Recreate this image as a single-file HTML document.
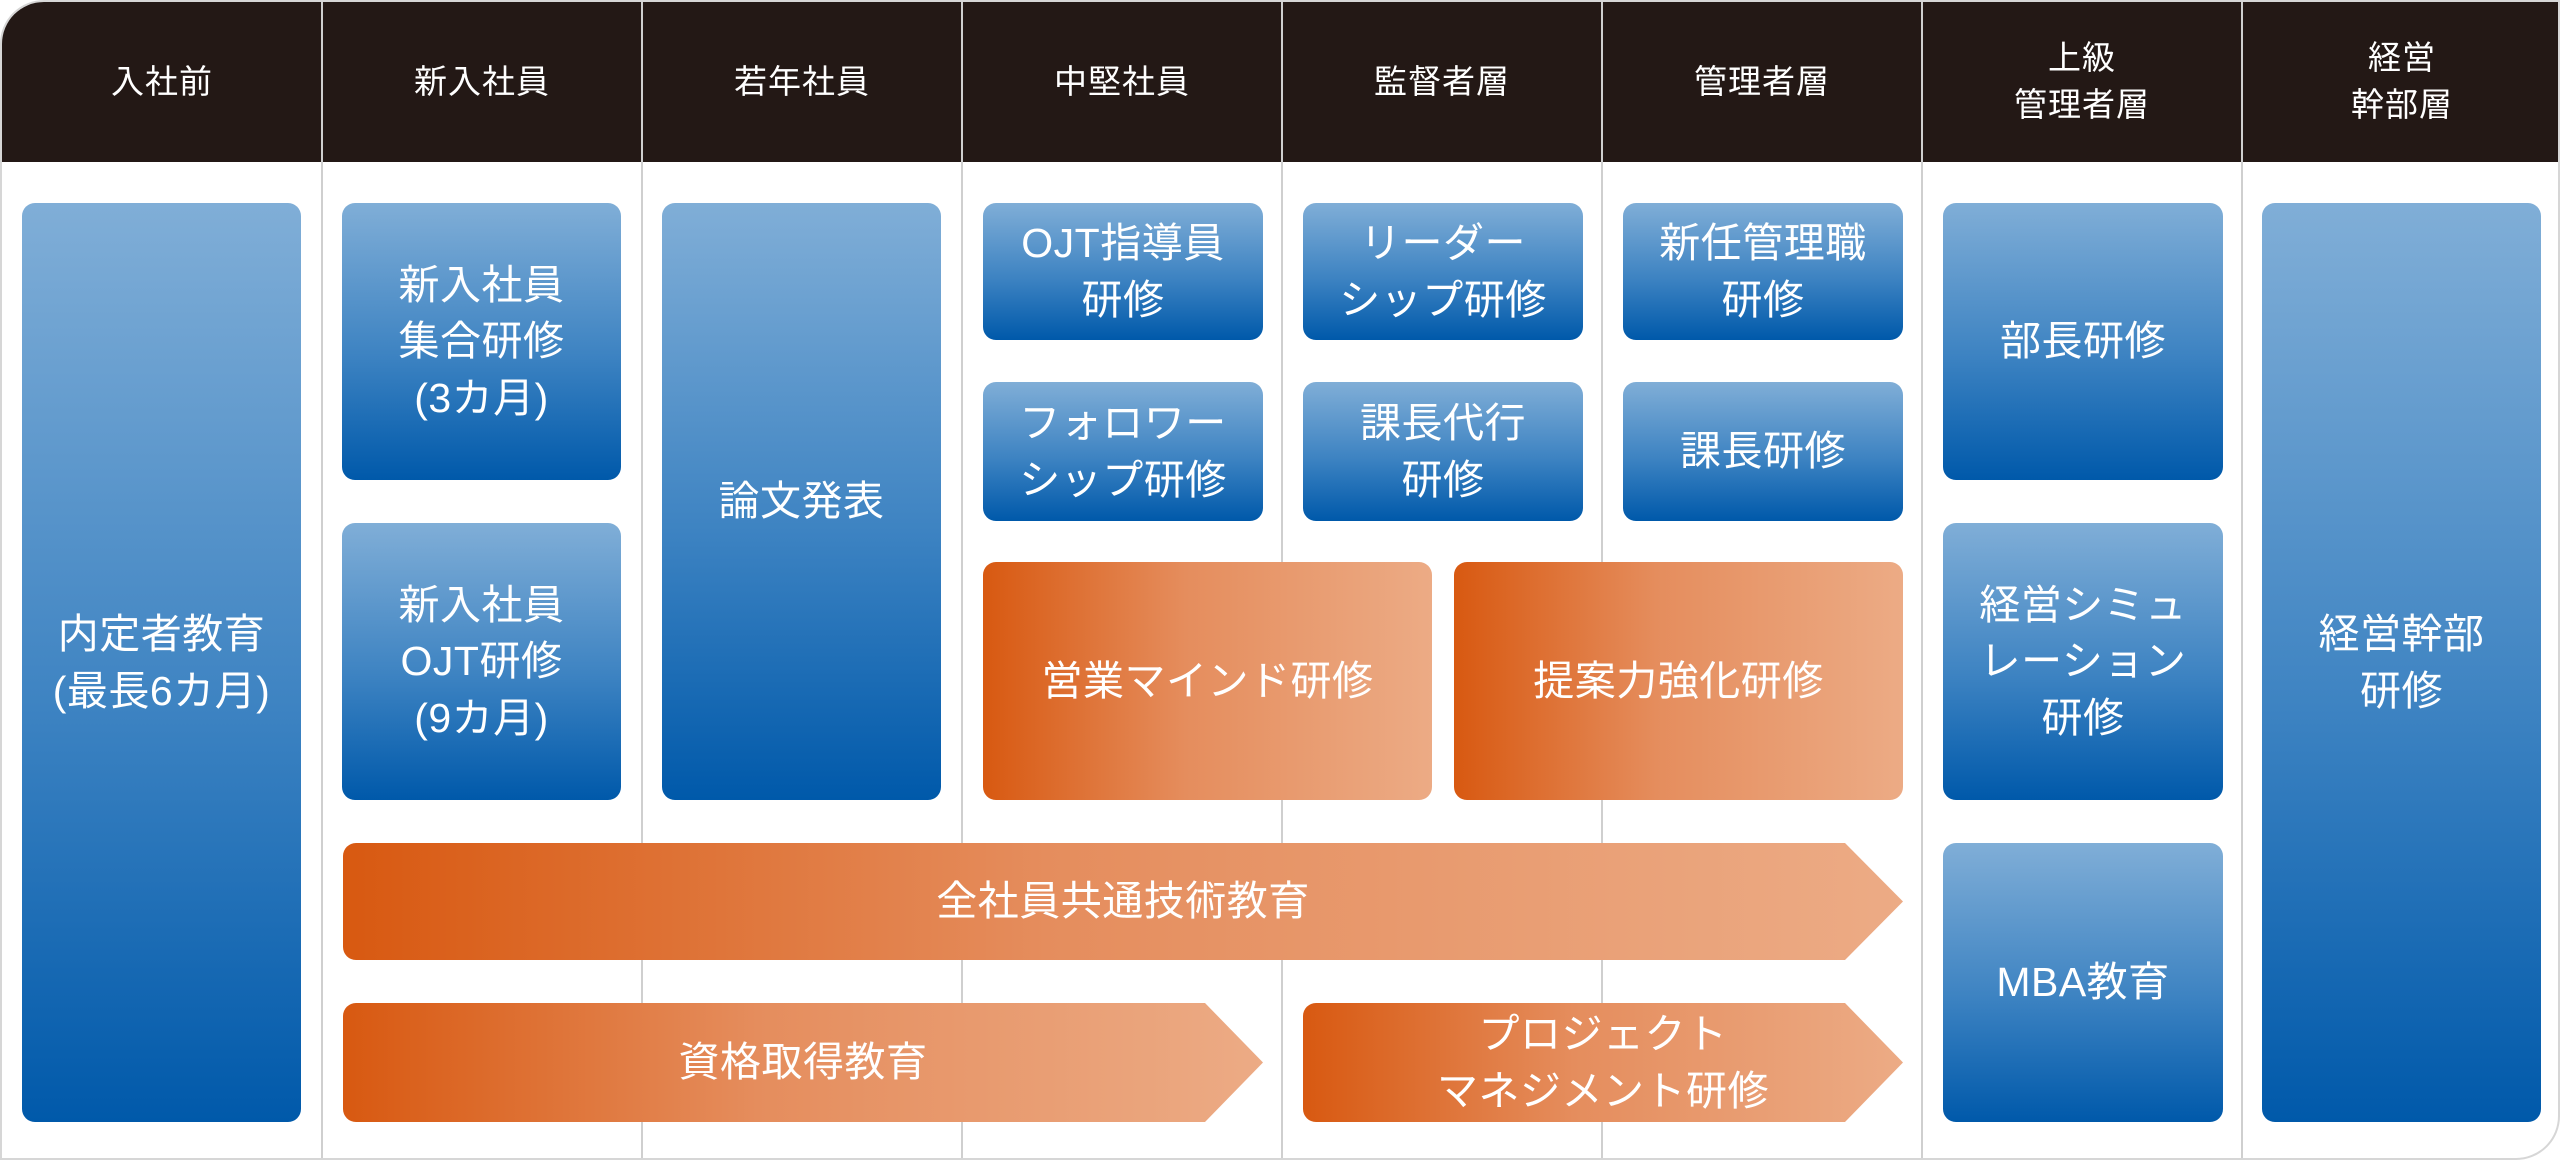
<!DOCTYPE html>
<html><head><meta charset="utf-8"><style>
*{margin:0;padding:0;box-sizing:border-box}
body{width:2560px;height:1160px;background:#fff;font-family:"Liberation Sans","Noto Sans CJK JP",sans-serif;overflow:hidden;position:relative}
.frame{position:absolute;left:0;top:0;width:2560px;height:1160px;border:2px solid #d6d6d6;border-radius:44px 0 44px 0;overflow:hidden}
.hdr{position:absolute;left:0;top:0;width:2560px;height:160px;background:#231815}
.h{position:absolute;top:0;height:160px;width:320px;color:#fff;font-size:33px;display:flex;align-items:center;justify-content:center;text-align:center;line-height:1.42;letter-spacing:1px}
.vl{position:absolute;top:0;width:2px;height:1160px;background:#cfcfcf}
.b{position:absolute;border-radius:13px;background:linear-gradient(180deg,#80aed7 0%,#3d83c2 55%,#0059aa 100%);color:#fff;font-size:41px;display:flex;align-items:center;justify-content:center;text-align:center;line-height:1.38;letter-spacing:0.5px}
.o{position:absolute;border-radius:13px;background:linear-gradient(90deg,#d85911 0%,#e58d5d 45%,#ecab85 100%);color:#fff;font-size:41px;display:flex;align-items:center;justify-content:center;text-align:center;line-height:1.38;letter-spacing:0.5px}
</style></head><body>
<div class="frame">
<div class="hdr"></div>
<div class="vl" style="left:319px"></div><div class="vl" style="left:639px"></div><div class="vl" style="left:959px"></div><div class="vl" style="left:1279px"></div><div class="vl" style="left:1599px"></div><div class="vl" style="left:1919px"></div><div class="vl" style="left:2239px"></div>
<div class="h" style="left:0">入社前</div>
<div class="h" style="left:320px">新入社員</div>
<div class="h" style="left:640px">若年社員</div>
<div class="h" style="left:960px">中堅社員</div>
<div class="h" style="left:1280px">監督者層</div>
<div class="h" style="left:1600px">管理者層</div>
<div class="h" style="left:1920px">上級<br>管理者層</div>
<div class="h" style="left:2240px">経営<br>幹部層</div>

<div class="b" style="left:20px;top:201px;width:279px;height:919px">内定者教育<br>(最長6カ月)</div>
<div class="b" style="left:340px;top:201px;width:279px;height:277px">新入社員<br>集合研修<br>(3カ月)</div>
<div class="b" style="left:340px;top:521px;width:279px;height:277px">新入社員<br>OJT研修<br>(9カ月)</div>
<div class="b" style="left:660px;top:201px;width:279px;height:597px">論文発表</div>
<div class="b" style="left:981px;top:201px;width:280px;height:137px">OJT指導員<br>研修</div>
<div class="b" style="left:981px;top:380px;width:280px;height:139px">フォロワー<br>シップ研修</div>
<div class="b" style="left:1301px;top:201px;width:280px;height:137px">リーダー<br>シップ研修</div>
<div class="b" style="left:1301px;top:380px;width:280px;height:139px">課長代行<br>研修</div>
<div class="b" style="left:1621px;top:201px;width:280px;height:137px">新任管理職<br>研修</div>
<div class="b" style="left:1621px;top:380px;width:280px;height:139px">課長研修</div>
<div class="b" style="left:1941px;top:201px;width:280px;height:277px">部長研修</div>
<div class="b" style="left:1941px;top:521px;width:280px;height:277px">経営シミュ<br>レーション<br>研修</div>
<div class="b" style="left:1941px;top:841px;width:280px;height:279px">MBA教育</div>
<div class="b" style="left:2260px;top:201px;width:279px;height:919px">経営幹部<br>研修</div>

<div class="o" style="left:981px;top:560px;width:449px;height:238px">営業マインド研修</div>
<div class="o" style="left:1452px;top:560px;width:449px;height:238px">提案力強化研修</div>
<div class="o" style="left:341px;top:841px;width:1560px;height:117px;border-radius:13px 0 0 13px;clip-path:polygon(0 0,1502px 0,100% 50%,1502px 100%,0 100%)">全社員共通技術教育</div>
<div class="o" style="left:341px;top:1001px;width:920px;height:119px;border-radius:13px 0 0 13px;clip-path:polygon(0 0,862px 0,100% 50%,862px 100%,0 100%)">資格取得教育</div>
<div class="o" style="left:1301px;top:1001px;width:600px;height:119px;border-radius:13px 0 0 13px;clip-path:polygon(0 0,542px 0,100% 50%,542px 100%,0 100%)">プロジェクト<br>マネジメント研修</div>
</div>
</body></html>
